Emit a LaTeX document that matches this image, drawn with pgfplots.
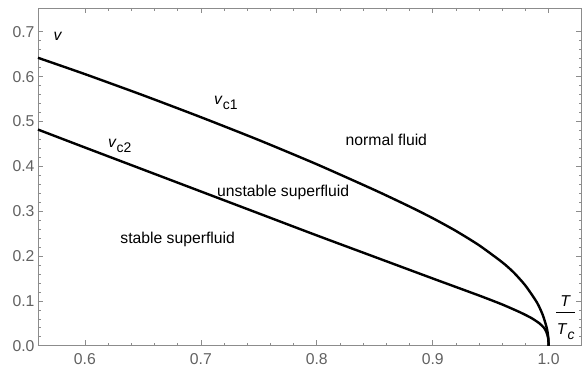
\documentclass[border=0pt]{standalone}
\usepackage{pgfplots}
\pgfplotsset{compat=1.18}
\usepackage{fontspec}
\setmainfont{Liberation Sans}
\setsansfont{Liberation Sans}
\pgfplotstableread{
t v
0.5595 0.642
0.60 0.6056
0.65 0.5586
0.70 0.5096
0.75 0.4586
0.80 0.4046
0.85 0.347
0.88 0.3104
0.90 0.2844
0.92 0.256
0.94 0.224
0.96 0.186
0.97 0.163
0.98 0.134
0.99 0.096
0.995 0.068
0.998 0.043
0.999 0.031
0.9997 0.017
1.0 0.0
}\vcone
\pgfplotstableread{
t v
0.5595 0.482
0.60 0.442
0.65 0.393
0.70 0.344
0.75 0.295
0.80 0.246
0.85 0.198
0.90 0.150
0.94 0.112
0.96 0.092
0.975 0.075
0.985 0.062
0.992 0.050
0.996 0.040
0.998 0.031
0.9995 0.018
1.0 0.0
}\vctwo
\begin{document}
\begin{tikzpicture}
\begin{axis}[
  scale only axis, width=544bp, height=338bp,
  xmin=0.5595, xmax=1.0284, ymin=0, ymax=0.753,
  xtick={0.6,0.7,0.8,0.9,1.0},
  ytick={0,0.1,0.2,0.3,0.4,0.5,0.6,0.7},
  minor x tick num=4, minor y tick num=4,
  tick align=inside,
  axis line style={black!45, line width=0.8bp},
  every tick/.style={black!45, line width=0.7bp},
  major tick length=5.5bp, minor tick length=3bp,
  /pgf/number format/assume math mode=true,
  /pgf/number format/fixed, /pgf/number format/fixed zerofill, /pgf/number format/precision=1,
  tick label style={text=black!62, font=\fontsize{15.8}{19}\selectfont},
  xticklabel style={yshift=-4.5bp},
  clip=false,
]
\addplot[black, line width=2.4bp, no markers, smooth, tension=0.4] table[x=t,y=v] {\vcone};
\addplot[black, line width=2.4bp, no markers, smooth, tension=0.4] table[x=t,y=v] {\vctwo};
\begin{scope}[every node/.style={font=\fontsize{15.8}{19}\selectfont, text=black}]
\node at (axis cs:0.5767,0.689) {\textit{v}};
\node at (axis cs:0.7216,0.541) {\textit{v}\raisebox{-0.3em}{\fontsize{14}{16}\selectfont c1}};
\node at (axis cs:0.630,0.445) {\textit{v}\raisebox{-0.3em}{\fontsize{14}{16}\selectfont c2}};
\node at (axis cs:0.860,0.460) {normal fluid};
\node at (axis cs:0.771,0.342) {unstable superfluid};
\node at (axis cs:0.680,0.238) {stable superfluid};
\node at (axis cs:1.0147,0.1007) {\textit{T}};
\node[inner sep=0pt] at (axis cs:1.0147,0.0747) {\rule{19bp}{0.8bp}};
\node at (axis cs:1.0147,0.031) {\textit{T}\raisebox{-0.3em}{\fontsize{14}{16}\selectfont\textit{c}}};
\end{scope}
\end{axis}
\path ([shift={(-38bp,-24bp)}]current axis.south west) rectangle ([shift={(0bp,8bp)}]current axis.north east);
\end{tikzpicture}
\end{document}
